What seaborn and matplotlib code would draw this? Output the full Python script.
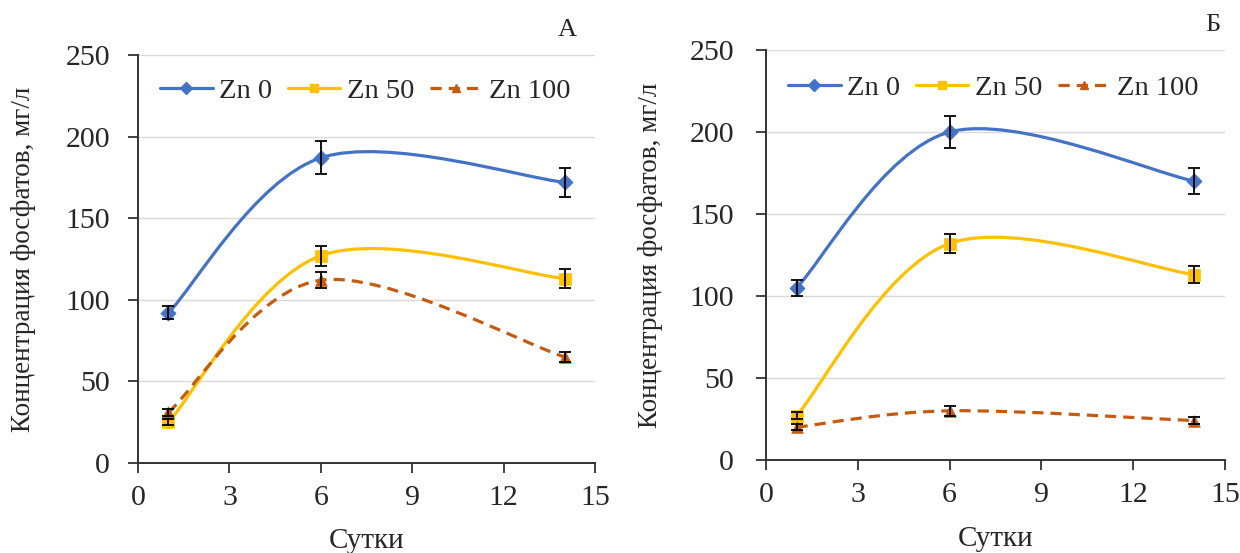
import numpy as np
import pandas as pd
import matplotlib
matplotlib.use("Agg")
import matplotlib.pyplot as plt
import seaborn as sns
from matplotlib.path import Path
from matplotlib.patches import PathPatch
from matplotlib.lines import Line2D

# data
days = [1, 6, 14]
series_names = ["Zn 0", "Zn 50", "Zn 100"]

# panel A
a_zn0 = [92, 187, 172]
a_zn0_err = [4, 10, 9]
a_zn50 = [25, 127, 113]
a_zn50_err = [2, 6, 6]
a_zn100 = [31, 112, 65]
a_zn100_err = [2, 5, 3]

# panel Б
b_zn0 = [105, 200, 170]
b_zn0_err = [5, 10, 8]
b_zn50 = [27, 132, 113]
b_zn50_err = [2, 6, 5]
b_zn100 = [20, 30, 24]
b_zn100_err = [2, 3, 2]

x_ticks = [0, 3, 6, 9, 12, 15]
y_ticks = [0, 50, 100, 150, 200, 250]

colors = ["#4472C4", "#FFC000", "#C55A11"]
markers = ["D", "s", "^"]
msizes = [60, 70, 70]
dashed = [False, False, True]

sns.set_theme(style="white")
plt.rcParams["font.family"] = "serif"
plt.rcParams["font.serif"] = ["Liberation Serif", "DejaVu Serif"]
FS = 21.5


def smooth_curve(ax, xs, ys, color, dash):
    # Excel-like smoothed line: Catmull-Rom style Bezier through the data points
    pts = np.column_stack([xs, ys]).astype(float)
    n = len(pts)
    verts = [pts[0]]
    codes = [Path.MOVETO]
    for i in range(n - 1):
        p0 = pts[i - 1] if i > 0 else pts[i]
        p1 = pts[i]
        p2 = pts[i + 1]
        p3 = pts[i + 2] if i + 2 < n else pts[i + 1]
        verts += [p1 + (p2 - p0) / 6, p2 - (p3 - p1) / 6, p2]
        codes += [Path.CURVE4] * 3
    ls = (0, (3.5, 2.2)) if dash else "-"
    patch = PathPatch(Path(verts, codes), facecolor="none", edgecolor=color,
                      lw=2.3, linestyle=ls, transform=ax.transData, zorder=2,
                      capstyle="butt")
    ax.add_patch(patch)


def draw_panel(ax, vals, errs, leg_anchor, ypad):
    for name, v, e, c, m, s, d in zip(series_names, vals, errs, colors,
                                      markers, msizes, dashed):
        smooth_curve(ax, days, v, c, d)
        df = pd.DataFrame({"day": days, "val": v})
        sns.scatterplot(data=df, x="day", y="val", marker=m, color=c, s=s,
                        edgecolor=c, linewidth=0.5, ax=ax, zorder=3,
                        legend=False)
        ax.errorbar(days, v, yerr=e, fmt="none", ecolor="black", elinewidth=1.3,
                    capsize=4, capthick=1.3, zorder=4)

    ax.set_xlim(0, 15)
    ax.set_ylim(0, 250)
    ax.set_xticks(x_ticks)
    ax.set_yticks(y_ticks)
    ax.yaxis.grid(True, color="#D9D9D9", lw=1)
    ax.xaxis.grid(False)
    ax.set_axisbelow(True)
    for sp in ["top", "right"]:
        ax.spines[sp].set_visible(False)
    for sp in ["left", "bottom"]:
        ax.spines[sp].set_color("#333333")
        ax.spines[sp].set_linewidth(1.4)
    ax.tick_params(axis="both", direction="out", length=7, width=1.3,
                   color="#333333", labelsize=FS, left=True, bottom=True)
    ax.tick_params(axis="x", pad=9)
    ax.tick_params(axis="y", pad=ypad)
    ax.set_xlabel("Сутки", fontsize=21)
    ax.set_ylabel("Концентрация фосфатов, мг/л", fontsize=19.5)
    ax.xaxis.set_label_coords(0.5, -0.16)
    ax.yaxis.set_label_coords(-0.224, 0.5)

    handles = []
    for c, m, d in zip(colors, markers, dashed):
        handles.append(Line2D([], [], color=c, lw=2.3, marker=m, markersize=6,
                              linestyle=(0, (3.5, 2.2)) if d else "-",
                              markeredgecolor=c))
    ax.legend(handles, series_names, loc="center left", bbox_to_anchor=leg_anchor,
              ncol=3, frameon=False, fontsize=20.5, handlelength=1.85,
              handletextpad=0.22, columnspacing=0.55, borderpad=0,
              borderaxespad=0)


fig = plt.figure(figsize=(12.4, 5.53), dpi=100)
ax_a = fig.add_axes([138 / 1240, 1 - 463 / 553, 457 / 1240, 408 / 553])
ax_b = fig.add_axes([766 / 1240, 1 - 460 / 553, 459 / 1240, 410 / 553])

draw_panel(ax_a, [a_zn0, a_zn50, a_zn100], [a_zn0_err, a_zn50_err, a_zn100_err],
           (0.048, 0.912), 13)
draw_panel(ax_b, [b_zn0, b_zn50, b_zn100], [b_zn0_err, b_zn50_err, b_zn100_err],
           (0.048, 0.907), 16)

fig.text(567 / 1240, 1 - 30 / 553, "А", fontsize=19, ha="center", va="center")
fig.text(1213 / 1240, 1 - 25 / 553, "Б", fontsize=19, ha="center", va="center")

fig.savefig("out.png", dpi=100)
